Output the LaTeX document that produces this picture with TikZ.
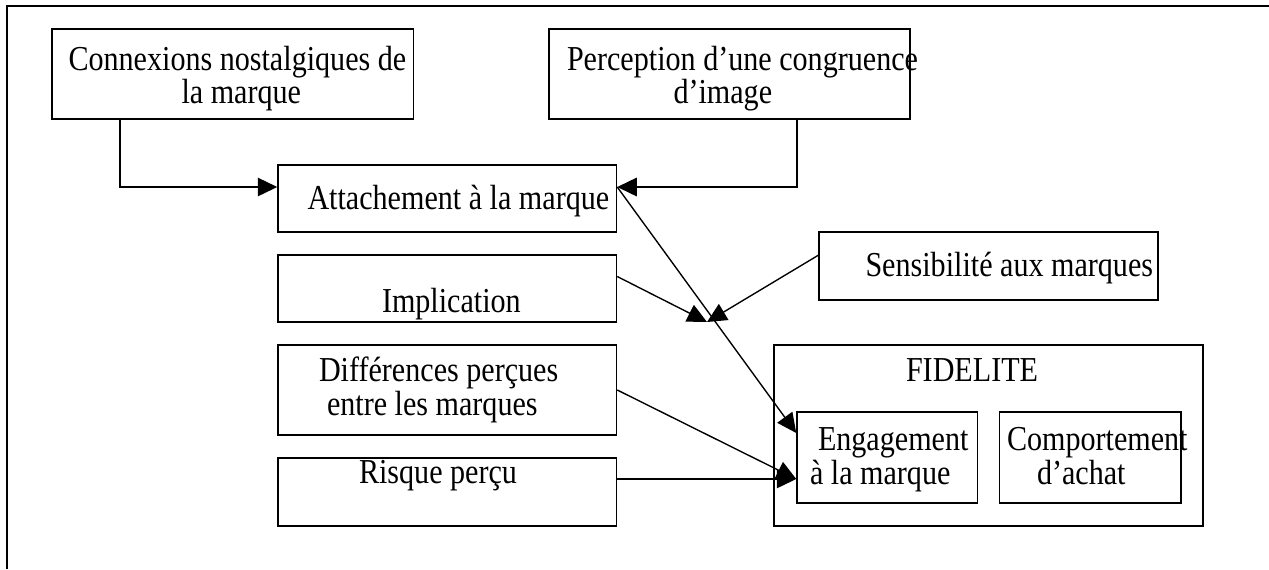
\documentclass[tikz,border=0pt]{standalone}
\usepackage{fontspec}
\setmainfont{Liberation Serif}
\newfontfamily\tallserif{Liberation Serif}[FakeStretch=0.86]
\usetikzlibrary{arrows.meta,fit}
\newdimen\pxsize
\setlength{\pxsize}{0.4pt}

\begin{document}
\begin{tikzpicture}[x=\pxsize,y=-\pxsize]
\tikzset{box/.style={draw, line width=0.6pt, inner sep=0pt}}%
\tikzset{lbl/.style={anchor=base west, inner sep=0pt, font=\tallserif\fontsize{14pt}{15pt}\selectfont}}%
\tikzset{arr/.style={line width=0.55pt, -{Triangle[length=7.8pt,width=7.4pt]}}}%
\useasboundingbox (0,0) rectangle (1269,569);
\draw[line width=0.6pt] (7,569) |- (1269,6);
% boxes
\node[box, fit={(52,29) (413.5,119)}] (conn) {};
\node[box, fit={(549,29) (910,119)}] (perc) {};
\node[box, fit={(278,165) (616.5,232)}] (att) {};
\node[box, fit={(278,255) (616.5,322)}] (impl) {};
\node[box, fit={(278,345) (616.5,435)}] (diff) {};
\node[box, fit={(278,458) (616.5,526)}] (ris) {};
\node[box, fit={(819,232) (1158,300)}] (sens) {};
\node[box, fit={(774,345) (1203,526)}] (fid) {};
\node[box, fit={(797,412) (977.5,503)}] (eng) {};
\node[box, fit={(999.5,412) (1181,503)}] (comp) {};
% texts
\node[lbl] (conn-a) at (68,70) {Connexions nostalgiques de};
\node[lbl] (conn-b) at (181,103) {la marque};
\node[lbl] (perc-a) at (566.5,70) {Perception d’une congruence};
\node[lbl] (perc-b) at (673,103) {d’image};
\node[lbl] (att-a) at (307,209) {Attachement à la marque};
\node[lbl] (impl-a) at (381.5,312) {Implication};
\node[lbl] (diff-a) at (318.5,381.5) {Différences perçues};
\node[lbl] (diff-b) at (326.5,415) {entre les marques};
\node[lbl] (ris-a) at (358.5,483) {Risque perçu};
\node[lbl] (sens-a) at (865,276.5) {Sensibilité aux marques};
\node[lbl] (fid-a) at (905.5,381.5) {FIDELITE};
\node[lbl] (eng-a) at (817.5,450.5) {Engagement};
\node[lbl] (eng-b) at (809.5,484) {à la marque};
\node[lbl] (comp-a) at (1006.5,450.5) {Comportement};
\node[lbl] (comp-b) at (1036.5,484) {d’achat};
% connectors
\coordinate (k1) at (120,187);
\coordinate (k2) at (797,187);
\coordinate (mod) at (707,322);
\coordinate (a1) at (att.east |- k1);
\coordinate (e1) at ([yshift=9.8pt]eng.west);
\coordinate (r1) at ([yshift=-8.6pt]eng.west);
\draw[arr] (k1 |- conn.south) |- (att.west |- k1);
\draw[arr] (k2 |- perc.south) |- (a1);
\draw[arr] (a1) -- (e1);
\draw[arr] ([yshift=4.8pt]impl.east) -- (mod);
\draw[arr] ([yshift=4.3pt]sens.west) -- (mod);
\draw[arr] (diff.east) -- (r1);
\draw[arr] (r1 -| ris.east) -- (r1);
\end{tikzpicture}
\end{document}
